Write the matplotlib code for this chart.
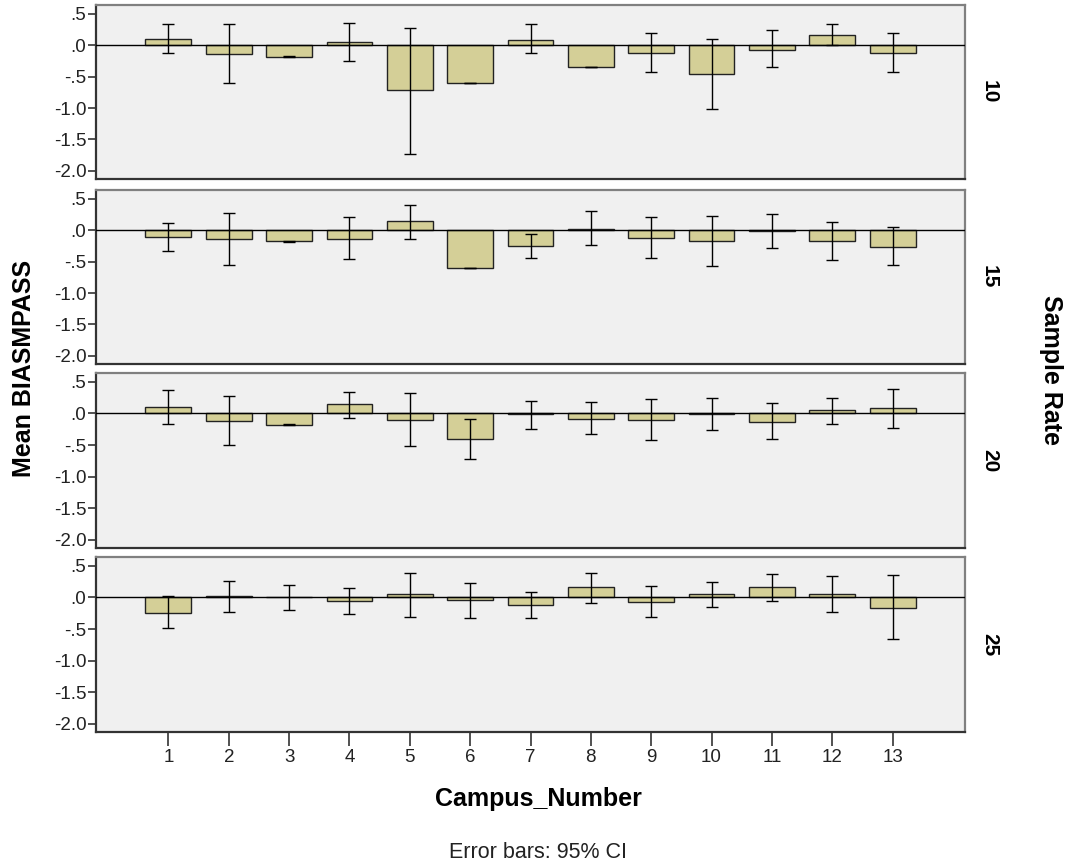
import matplotlib.pyplot as plt
import numpy as np

plt.rcParams['font.family'] = ['Liberation Sans', 'DejaVu Sans']

campus = [str(i) for i in range(1, 14)]
rates = ['10', '15', '20', '25']

# mean bias per campus, one list per sample rate
mean_10 = [0.106, -0.143, -0.18, 0.053, -0.72, -0.60, 0.09, -0.345, -0.117, -0.46, -0.07, 0.165, -0.117]
mean_15 = [-0.106, -0.143, -0.175, -0.133, 0.143, -0.60, -0.25, 0.02, -0.117, -0.17, -0.016, -0.175, -0.26]
mean_20 = [0.10, -0.113, -0.177, 0.145, -0.097, -0.403, -0.015, -0.086, -0.10, -0.01, -0.129, 0.054, 0.08]
mean_25 = [-0.24, 0.016, 0.0, -0.053, 0.053, -0.048, -0.117, 0.16, -0.08, 0.053, 0.17, 0.053, -0.165]

# 95% CI bounds
lo_10 = [-0.117, -0.594, -0.185, -0.244, -1.73, -0.605, -0.127, -0.35, -0.43, -1.02, -0.35, 0.0, -0.43]
hi_10 = [0.33, 0.33, -0.175, 0.36, 0.27, -0.595, 0.33, -0.34, 0.20, 0.096, 0.24, 0.33, 0.20]
lo_15 = [-0.334, -0.547, -0.18, -0.46, -0.133, -0.605, -0.44, -0.23, -0.435, -0.563, -0.287, -0.472, -0.557]
hi_15 = [0.12, 0.27, -0.17, 0.21, 0.40, -0.595, -0.06, 0.31, 0.207, 0.223, 0.25, 0.138, 0.053]
lo_20 = [-0.172, -0.495, -0.182, -0.065, -0.51, -0.72, -0.242, -0.328, -0.414, -0.263, -0.408, -0.172, -0.237]
hi_20 = [0.37, 0.28, -0.172, 0.344, 0.317, -0.086, 0.204, 0.177, 0.23, 0.247, 0.161, 0.247, 0.392]
lo_25 = [-0.49, -0.234, -0.20, -0.255, -0.31, -0.32, -0.32, -0.085, -0.314, -0.144, -0.059, -0.234, -0.665]
hi_25 = [0.027, 0.255, 0.20, 0.144, 0.39, 0.23, 0.09, 0.39, 0.176, 0.25, 0.367, 0.346, 0.35]

means = [mean_10, mean_15, mean_20, mean_25]
lows = [lo_10, lo_15, lo_20, lo_25]
highs = [hi_10, hi_15, hi_20, hi_25]

W, H = 1067, 867
fig = plt.figure(figsize=(W / 100, H / 100), dpi=100)

left, right = 96, 965
panels = [(5, 179), (190, 364), (373, 548), (557, 732)]
x = np.arange(1, 14)

for i, (top, bot) in enumerate(panels):
    ax = fig.add_axes([left / W, 1 - bot / H, (right - left) / W, (bot - top) / H])
    ax.set_facecolor('#f0f0f0')
    m = np.array(means[i])
    lo = np.array(lows[i])
    hi = np.array(highs[i])
    ax.bar(x, m, width=0.76, color='#d4cf97', edgecolor='#222222', linewidth=1.0, zorder=2)
    ax.axhline(0, color='black', linewidth=1.0, zorder=3)
    ax.errorbar(x, m, yerr=[m - lo, hi - m], fmt='none', ecolor='black',
                elinewidth=1.0, capsize=4.3, capthick=1.0, zorder=4)
    ax.set_xlim(-0.2, 14.2)
    ax.set_ylim(-2.13, 0.64)
    ax.set_yticks([0.5, 0.0, -0.5, -1.0, -1.5, -2.0])
    ax.set_yticklabels(['.5', '.0', '-.5', '-1.0', '-1.5', '-2.0'], fontsize=13.5, color='#222222')
    ax.tick_params(axis='y', direction='out', length=6, width=1.2, color='#333333', pad=1)
    for s in ax.spines.values():
        s.set_color('#808080')
        s.set_linewidth(1.6)
    ax.spines['left'].set_color('#333333')
    ax.spines['bottom'].set_color('#333333')
    if i < 3:
        ax.set_xticks([])
    else:
        ax.set_xticks(x)
        ax.set_xticklabels(campus, fontsize=13.5, color='#222222')
        ax.tick_params(axis='x', direction='out', length=10, width=1.2, color='#333333', pad=2)
    ax.text(1.028, 0.5, rates[i], transform=ax.transAxes, rotation=-90,
            ha='center', va='center', fontsize=15, fontweight='bold')

fig.text(24 / W, 1 - 368 / H, 'Mean BIASMPASS', rotation=90, ha='center', va='center',
         fontsize=18, fontweight='bold')
fig.text(1051 / W, 1 - 370 / H, 'Sample Rate', rotation=-90, ha='center', va='center',
         fontsize=18, fontweight='bold')
fig.text(538 / W, 1 - 799 / H, 'Campus_Number', ha='center', va='center',
         fontsize=18, fontweight='bold')
fig.text(538 / W, 1 - 853 / H, 'Error bars: 95% CI', ha='center', va='center',
         fontsize=15.5, color='#222222')

fig.savefig('out.png', dpi=100)
